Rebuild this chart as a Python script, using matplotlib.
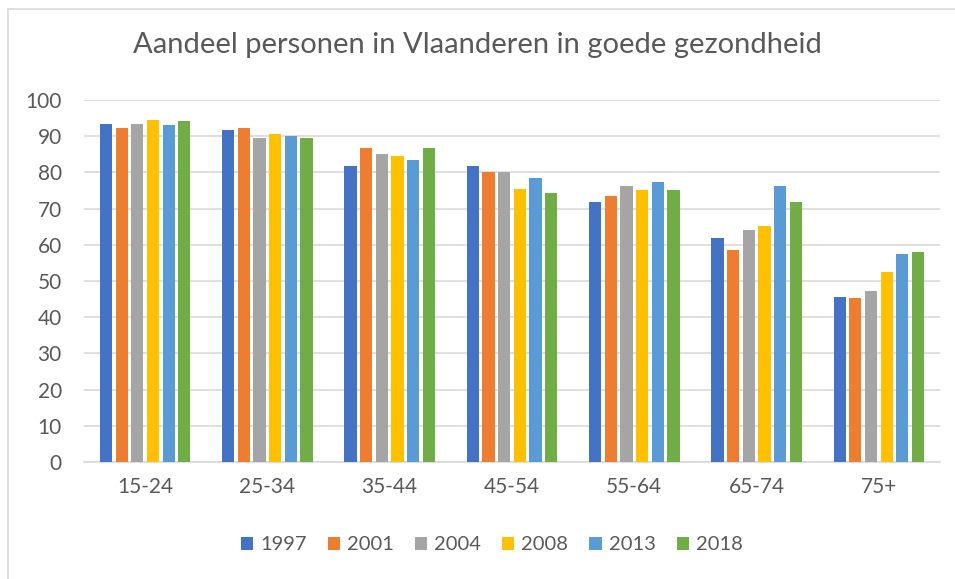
import numpy as np
import matplotlib as mpl
mpl.use('Agg')
import matplotlib.pyplot as plt
from matplotlib.patches import Rectangle


# data
categories = ["15-24", "25-34", "35-44", "45-54", "55-64", "65-74", "75+"]
years = ["1997", "2001", "2004", "2008", "2013", "2018"]
v1997 = [93.5, 91.8, 81.8, 81.8, 71.9, 61.9, 45.7]
v2001 = [92.4, 92.3, 86.8, 80.2, 73.5, 58.5, 45.2]
v2004 = [93.5, 89.6, 85.1, 80.2, 76.2, 64.1, 47.3]
v2008 = [94.5, 90.7, 84.5, 75.3, 75.2, 65.2, 52.4]
v2013 = [93.0, 90.1, 83.5, 78.5, 77.4, 76.3, 57.4]
v2018 = [94.1, 89.6, 86.8, 74.2, 75.2, 71.9, 57.9]
series = [v1997, v2001, v2004, v2008, v2013, v2018]

colors = ['#4472C4', '#ED7D31', '#A5A5A5', '#FFC000', '#5B9BD5', '#70AD47']
txt = '#595959'

plt.rcParams['font.family'] = ['Lato', 'DejaVu Sans']

fig = plt.figure(figsize=(9.55, 5.79), dpi=100)
fig.patches.append(Rectangle((8/955, -0.05), 1.1, 1 - 9/579 + 0.05,
                             transform=fig.transFigure, fill=False,
                             edgecolor='#d9d9d9', linewidth=1.2))
ax = fig.add_axes([84/955, 1 - 462/579, (940 - 84)/955, (462 - 100)/579])

x = np.arange(len(categories))
step = 0.128
width = 0.1
for i, (vals, c, yr) in enumerate(zip(series, colors, years)):
    ax.bar(x + (i - 2.5)*step, vals, width, color=c, label=yr, zorder=3)

ax.set_xlim(-0.5, len(categories) - 0.5)
ax.set_ylim(0, 100)
ax.set_yticks(range(0, 101, 10))
ax.set_xticks(x)
ax.set_xticklabels(categories)
ax.grid(axis='y', color='#d9d9d9', linewidth=1.2, zorder=0)
for s in ['top', 'right', 'left']:
    ax.spines[s].set_visible(False)
ax.spines['bottom'].set_color('#d9d9d9')
ax.spines['bottom'].set_linewidth(1.2)
ax.tick_params(axis='both', length=0, labelsize=15, colors=txt)
ax.tick_params(axis='y', pad=16)
ax.tick_params(axis='x', pad=11)

fig.text(0.5, 1 - 45/579, "Aandeel personen in Vlaanderen in goede gezondheid",
         ha='center', va='center', fontsize=21, color=txt)

fig.legend(loc='center', bbox_to_anchor=(0.515, 1 - 545/579), ncol=6,
           frameon=False, fontsize=14.5, labelcolor=txt, handlelength=0.6,
           handleheight=0.6, handletextpad=0.35, columnspacing=1.05)

fig.savefig('out.png', dpi=100)
